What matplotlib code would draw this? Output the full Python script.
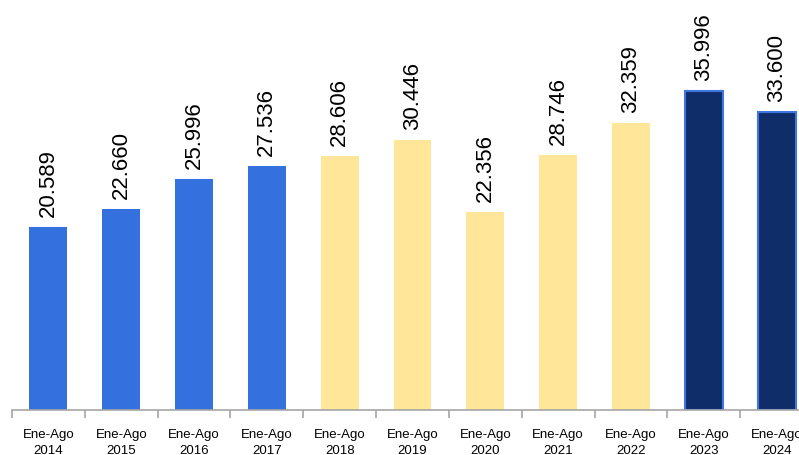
import matplotlib
matplotlib.use("Agg")
import matplotlib.pyplot as plt
import numpy as np

categories = ["Ene-Ago\n2014", "Ene-Ago\n2015", "Ene-Ago\n2016", "Ene-Ago\n2017",
              "Ene-Ago\n2018", "Ene-Ago\n2019", "Ene-Ago\n2020", "Ene-Ago\n2021",
              "Ene-Ago\n2022", "Ene-Ago\n2023", "Ene-Ago\n2024"]
values = [20589, 22660, 25996, 27536, 28606, 30446, 22356, 28746, 32359, 35996, 33600]
labels = ["20.589", "22.660", "25.996", "27.536", "28.606", "30.446",
          "22.356", "28.746", "32.359", "35.996", "33.600"]
groups = ["a", "a", "a", "a", "b", "b", "b", "b", "b", "c", "c"]

fill = {"a": "#3571DE", "b": "#FFE699", "c": "#0F2D69"}
edge = {"a": "#3571DE", "b": "#FFE699", "c": "#3F76E0"}

plt.rcParams['font.family'] = ['Liberation Sans', 'DejaVu Sans']

fig = plt.figure(figsize=(7.99, 4.56), dpi=100)
ax = fig.add_axes([12/799, 1 - 411/456, 801/799, 411/456])

x = np.arange(len(values))
for xi, v, g, lab in zip(x, values, groups, labels):
    ax.bar(xi, v, width=0.52, color=fill[g], edgecolor=edge[g], linewidth=1.5 if g == "c" else 0)
    ax.annotate(lab, (xi, v), xytext=(0, 8), textcoords="offset points",
                rotation=90, ha="center", va="bottom", fontsize=16, color="black")

ax.set_xlim(-0.5, len(values) - 0.5)
ax.set_ylim(0, 411 / 0.00887)

ax.set_xticks(x)
ax.set_xticklabels(categories, fontsize=9.5, linespacing=1.4)
ax.tick_params(axis="x", which="major", length=0, pad=13)
ax.set_xticks(np.arange(-0.5, len(values) + 0.5, 1), minor=True)
ax.tick_params(axis="x", which="minor", length=6, color="#A6A6A6", width=1.2)
ax.set_yticks([])
for s in ["left", "right", "top"]:
    ax.spines[s].set_visible(False)
ax.spines["bottom"].set_color("#A6A6A6")
ax.spines["bottom"].set_linewidth(1.2)
ax.patch.set_alpha(0)

fig.savefig("out.png", dpi=100)
